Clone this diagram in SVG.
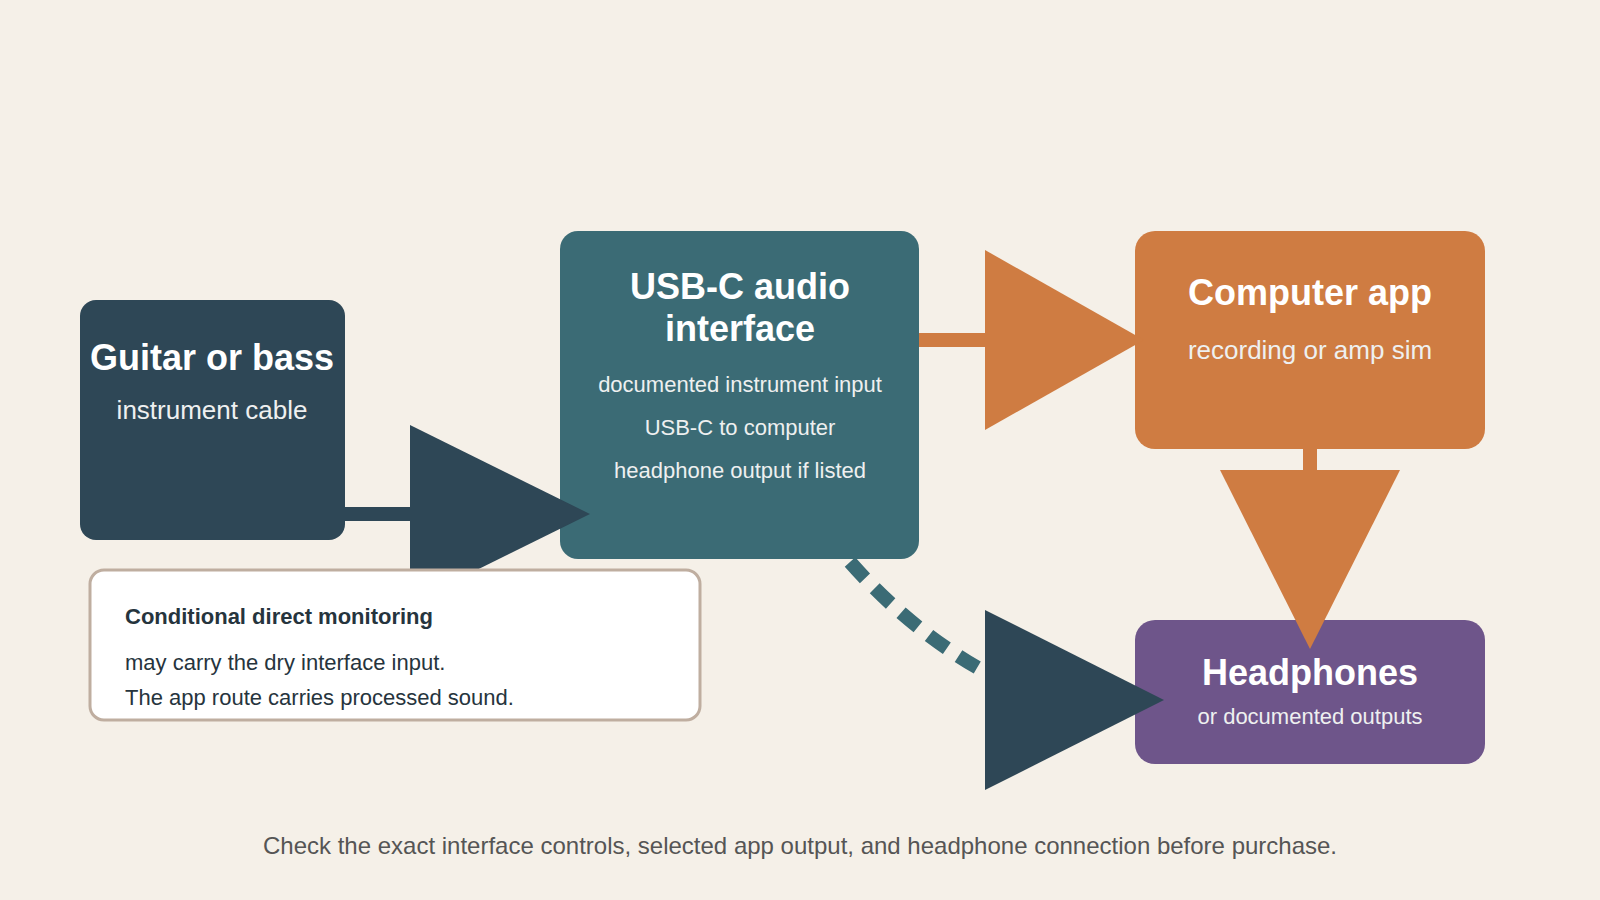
<svg xmlns="http://www.w3.org/2000/svg" width="1600" height="900" viewBox="0 0 1600 900">
<style>
text{font-family:"Liberation Sans",Arial,sans-serif;text-anchor:middle}
.t{fill:#fff;font-weight:bold;font-size:36px}
.s{fill:#eef0f0;font-size:26px}
.u{fill:#eef0f0;font-size:22px}
.n{fill:#26343d;text-anchor:start;font-size:22px}
</style>
<rect width="1600" height="900" fill="#f5f0e8"/>
<g id="guitar"><rect x="80" y="300" width="265" height="240" rx="16" fill="#2e4756"/>
<text class="t" x="212" y="370">Guitar or bass</text><text class="s" x="212" y="419">instrument cable</text></g>
<g id="usb"><rect x="560" y="231" width="359" height="328" rx="18" fill="#3b6b75"/>
<text class="t" x="740" y="299" font-size="34">USB-C audio</text><text class="t" x="740" y="341" font-size="34">interface</text>
<text class="u" x="740" y="392">documented instrument input</text><text class="u" x="740" y="435">USB-C to computer</text><text class="u" x="740" y="478">headphone output if listed</text></g>
<g id="computer"><rect x="1135" y="231" width="350" height="218" rx="20" fill="#cf7c42"/>
<text class="t" x="1310" y="305" font-size="34">Computer app</text><text class="s" x="1310" y="359" fill="#fff">recording or amp sim</text></g>
<g id="headphones"><rect x="1135" y="620" width="350" height="144" rx="20" fill="#6e558a"/>
<text class="t" x="1310" y="685" font-size="34">Headphones</text><text class="u" x="1310" y="724" font-size="23">or documented outputs</text></g>
<g id="connectors">
<line x1="345" y1="514" x2="415" y2="514" stroke="#2e4756" stroke-width="14"/>
<polygon points="410,425 590,514 410,603" fill="#2e4756"/>
<line x1="919" y1="340" x2="990" y2="340" stroke="#cf7c42" stroke-width="14"/>
<polygon points="985,250 1144,340 985,430" fill="#cf7c42"/>
<line x1="1310" y1="449" x2="1310" y2="475" stroke="#cf7c42" stroke-width="14"/>
<polygon points="1220,470 1400,470 1310,649" fill="#cf7c42"/>
<path d="M850,562 Q910,630 985,672" fill="none" stroke="#3b6b75" stroke-width="14" stroke-dasharray="22,14"/>
<polygon points="985,610 1164,700 985,790" fill="#2e4756"/>
</g>
<g id="note"><rect x="90" y="570" width="610" height="150" rx="14" fill="#fff" stroke="#bfaea0" stroke-width="3"/>
<text class="n" x="125" y="624" font-weight="bold" font-size="25">Conditional direct monitoring</text>
<text class="n" x="125" y="670">may carry the dry interface input.</text>
<text class="n" x="125" y="705">The app route carries processed sound.</text></g>
<text x="800" y="854" font-size="24" fill="#555">Check the exact interface controls, selected app output, and headphone connection before purchase.</text>
</svg>
